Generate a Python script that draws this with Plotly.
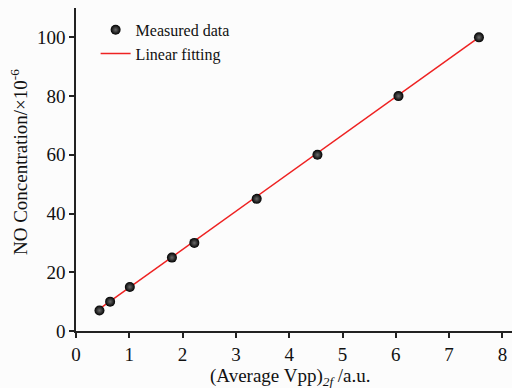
import plotly.graph_objects as go

# Measured data
vpp = [0.44, 0.64, 1.01, 1.80, 2.22, 3.39, 4.53, 6.05, 7.56]
conc = [7, 10, 15, 25, 30, 45, 60, 80, 100]

# Linear fitting line endpoints
fit_x = [0.44, 7.56]
fit_y = [7.5, 100.0]

x_ticks = [0, 1, 2, 3, 4, 5, 6, 7, 8]
y_ticks = [0, 20, 40, 60, 80, 100]

FONT = "Liberation Serif, Times New Roman, serif"

fig = go.Figure()
fig.add_trace(go.Scatter(
    x=fit_x, y=fit_y, mode="lines", name="Linear fitting", legendrank=2,
    line=dict(color="#ee2222", width=1.5),
))
fig.add_trace(go.Scatter(
    x=vpp, y=conc, mode="markers", name="Measured data", legendrank=1,
    marker=dict(size=10, color="#000000",
                gradient=dict(type="radial", color="#6a6a6a"),
                line=dict(width=0)),
))

axis_common = dict(
    showline=True, linecolor="#222222", linewidth=1.5,
    ticks="outside", ticklen=5, tickwidth=1.5, tickcolor="#222222",
    showgrid=False, zeroline=False, mirror=False, automargin=False,
    tickfont=dict(family=FONT, size=19, color="#111111"),
)

fig.update_layout(
    width=512, height=388,
    margin=dict(l=76, r=0, t=8, b=57),
    paper_bgcolor="#fcfcfc", plot_bgcolor="#fcfcfc",
    font=dict(family=FONT, color="#111111"),
    showlegend=True,
    legend=dict(x=0.045, y=0.985, xanchor="left", yanchor="top",
                bgcolor="rgba(0,0,0,0)", font=dict(family=FONT, size=16),
                tracegroupgap=0, itemwidth=30, traceorder="normal"),
    xaxis=dict(range=[0, 8.18], tickvals=x_ticks, **axis_common),
    yaxis=dict(range=[0, 110], tickvals=y_ticks, **axis_common),
    annotations=[
        dict(text="(Average Vpp)<sub><i>2f</i></sub> /a.u.", xref="paper", yref="paper",
             x=(290 - 76) / 436, y=0, xanchor="center", yanchor="top", yshift=-32,
             showarrow=False, font=dict(family=FONT, size=19)),
        dict(text="NO Concentration/×10<sup>-6</sup>", xref="paper", yref="paper",
             x=0, y=(331 - 162) / 323, xanchor="right", yanchor="middle", xshift=-43,
             textangle=-90, showarrow=False, font=dict(family=FONT, size=19)),
    ],
)

fig.write_html("out.html", config={"displayModeBar": False})

# remove the browser's default body margin so the figure sits at the page origin
with open("out.html", "r", encoding="utf-8") as f:
    html = f.read()
html = html.replace("<body>", '<body style="margin:0;padding:0;">', 1)
with open("out.html", "w", encoding="utf-8") as f:
    f.write(html)
